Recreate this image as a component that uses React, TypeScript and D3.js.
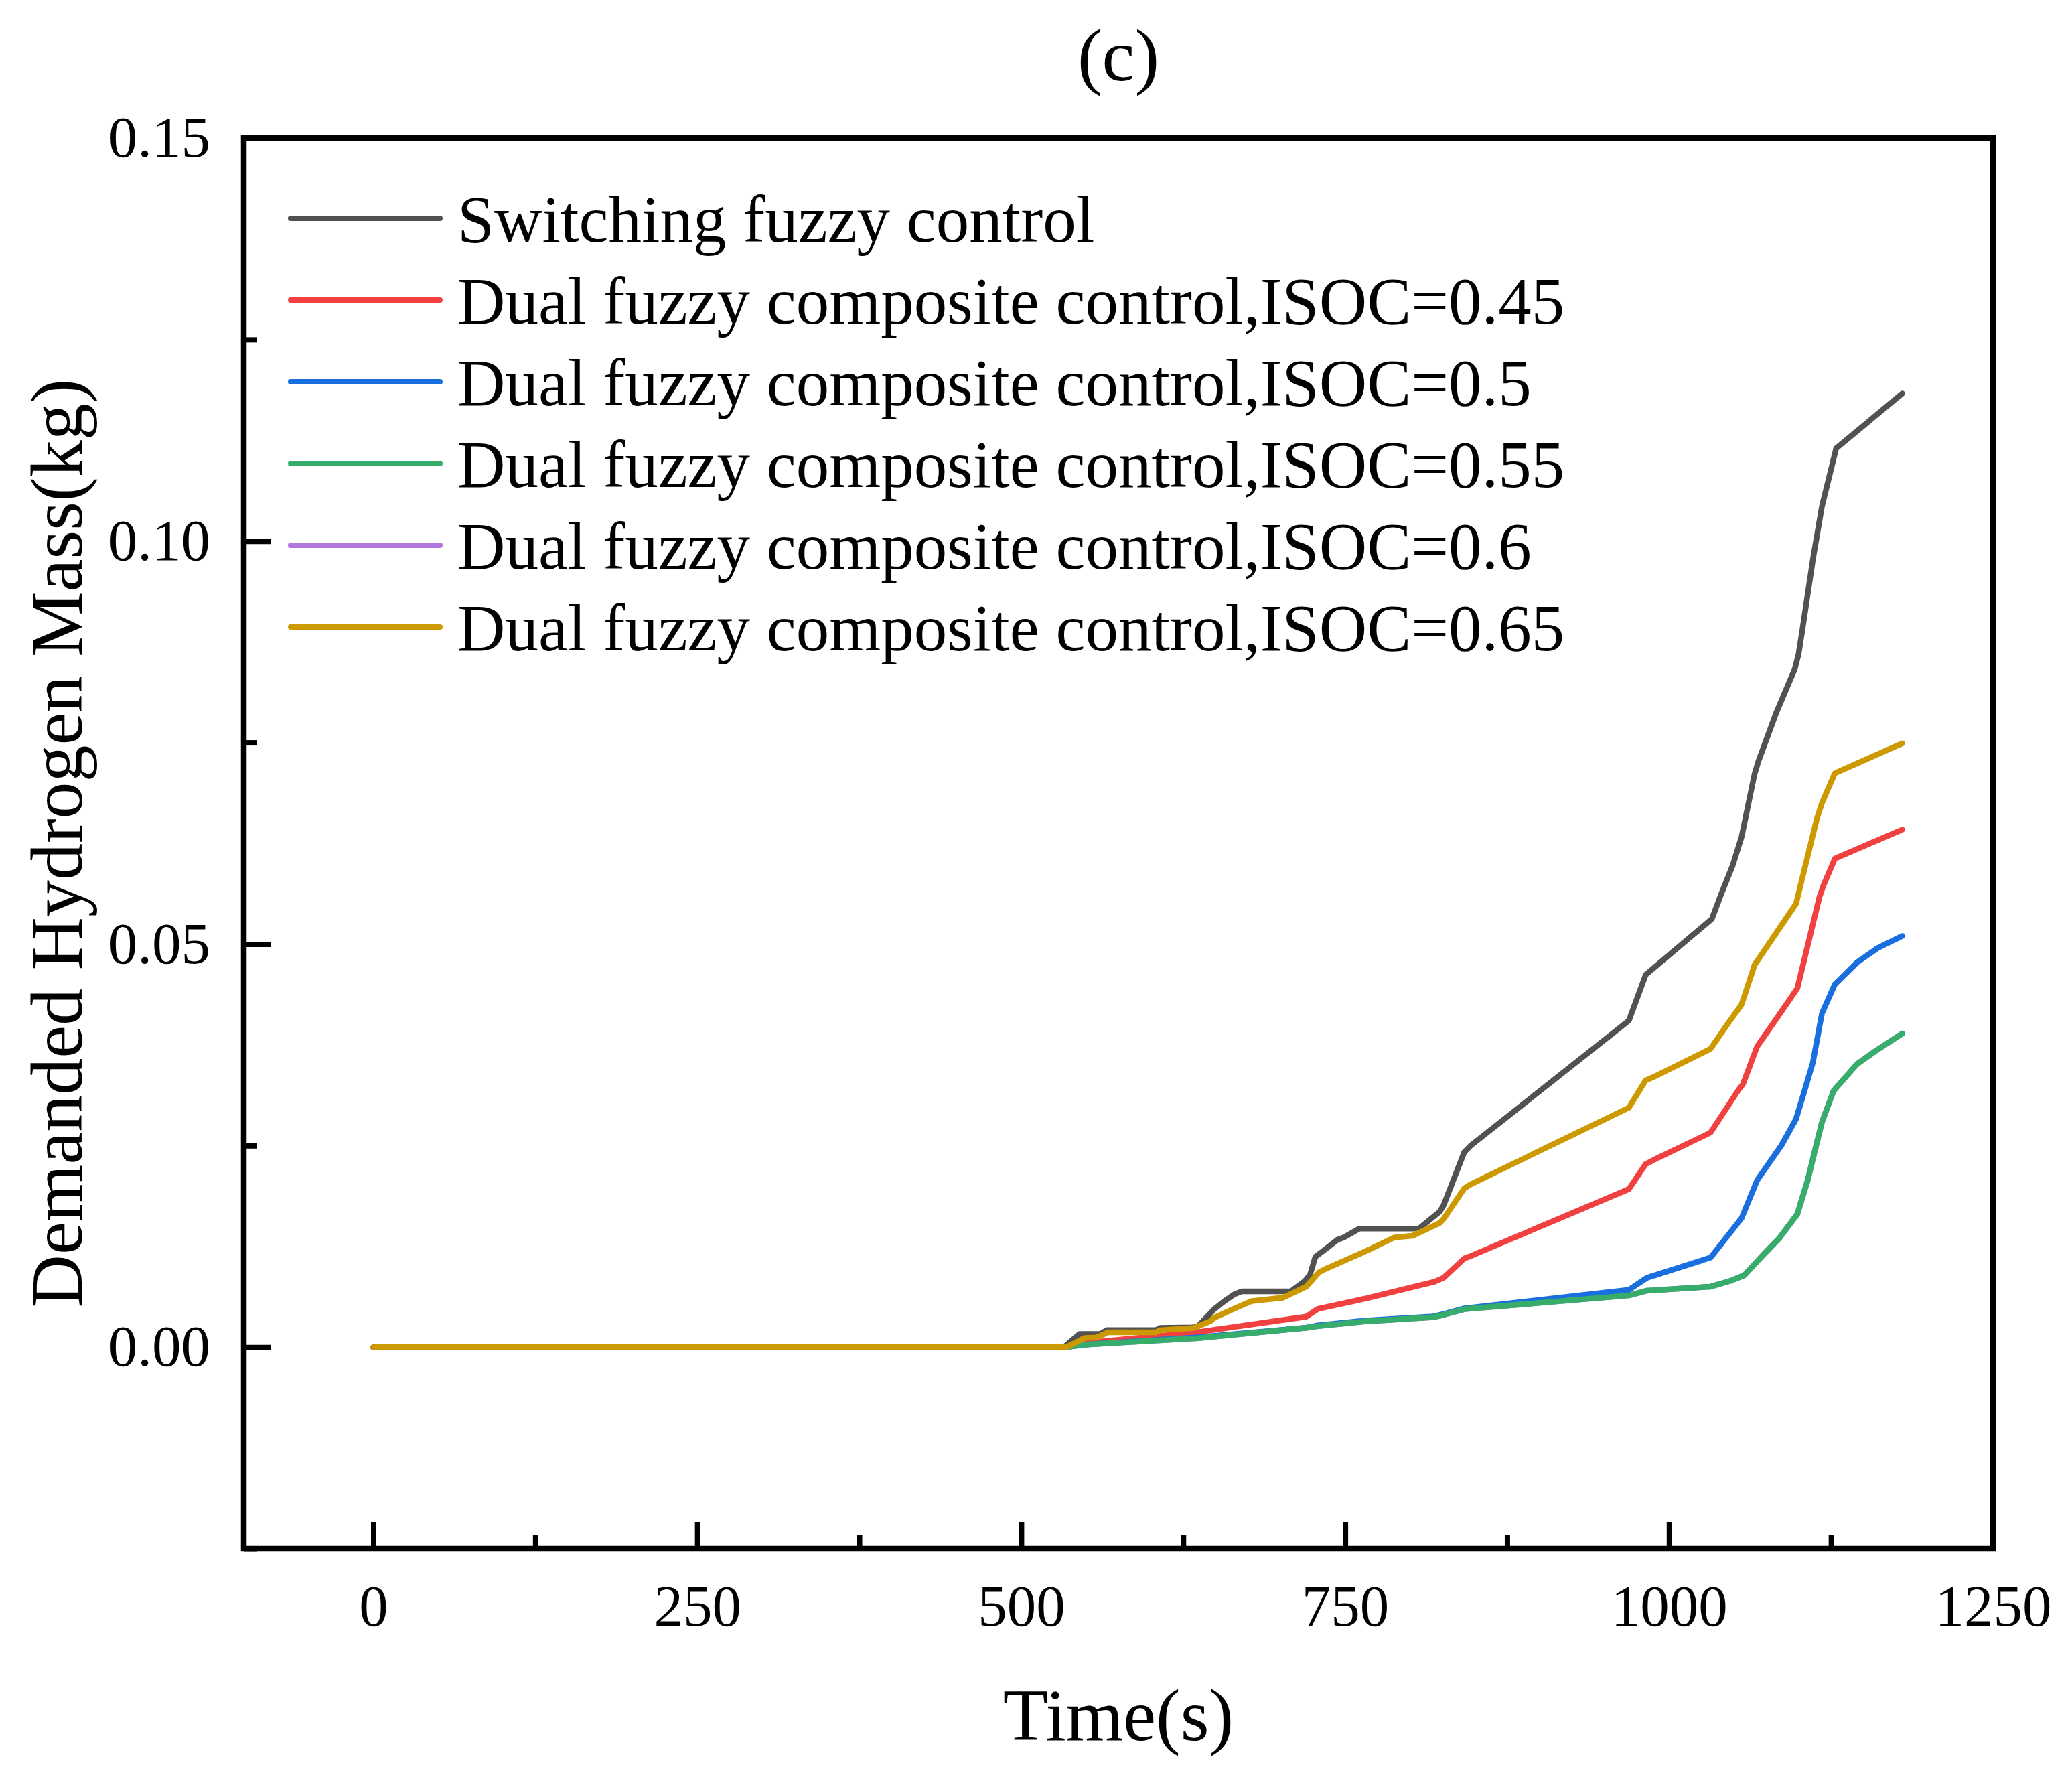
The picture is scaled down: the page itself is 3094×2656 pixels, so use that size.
import { useEffect, useRef } from "react"
import * as d3 from "d3"

// [time (s), demanded hydrogen mass (kg)]
const switchingFuzzy: [number, number][] = [
  [0, 0], [533, 0], [545, 0.00164], [561, 0.00164], [566, 0.0021], [604, 0.0021],
  [607, 0.00238], [632, 0.00245], [636, 0.00252], [642, 0.0035], [649, 0.0047],
  [656, 0.0056], [664, 0.0065], [670, 0.0069], [708, 0.0069], [719, 0.0082],
  [723, 0.009], [727, 0.0112], [732, 0.0118], [744, 0.0133], [749, 0.0136],
  [761, 0.0147], [807, 0.0147], [823, 0.0168], [826, 0.0176], [842, 0.0242],
  [847, 0.025], [969, 0.0405], [982, 0.0462], [1033, 0.0531], [1040, 0.0561],
  [1049, 0.0597], [1056, 0.0633], [1061, 0.0672], [1066, 0.0711], [1069, 0.0727],
  [1083, 0.0788], [1097, 0.0841], [1100, 0.086], [1103, 0.0891], [1111, 0.0977],
  [1118, 0.1043], [1129, 0.1115], [1180, 0.1183],
]

const isoc045: [number, number][] = [
  [0, 0], [535, 0], [548, 0.0005], [635, 0.00183], [720, 0.00377], [729, 0.00474],
  [766, 0.00603], [819, 0.0081], [826, 0.0086], [842, 0.011], [847, 0.0113],
  [969, 0.0196], [982, 0.0227], [988, 0.0232], [1032, 0.0266], [1054, 0.032],
  [1057, 0.0326], [1068, 0.0373], [1081, 0.0403], [1099, 0.0445], [1116, 0.0558],
  [1119, 0.0572], [1128, 0.0606], [1180, 0.0642],
]

const isoc050: [number, number][] = [
  [0, 0], [535, 0], [548, 0.0003], [635, 0.0012], [720, 0.0024], [729, 0.0027],
  [766, 0.0033], [818, 0.0038], [826, 0.0041], [842, 0.0048], [969, 0.0071],
  [983, 0.0086], [1032, 0.0111], [1056, 0.016], [1068, 0.0207], [1087, 0.0251],
  [1098, 0.0283], [1104, 0.0315], [1111, 0.0353], [1118, 0.0414], [1128, 0.045],
  [1145, 0.0477], [1161, 0.0495], [1180, 0.051],
]

const isoc055: [number, number][] = [
  [0, 0], [535, 0], [548, 0.0003], [635, 0.0011], [720, 0.0024], [729, 0.0026],
  [766, 0.0032], [818, 0.0037], [826, 0.004], [842, 0.0047], [969, 0.0064],
  [983, 0.007], [1032, 0.0075], [1047, 0.0082], [1058, 0.0089], [1073, 0.0115],
  [1085, 0.0135], [1099, 0.0165], [1107, 0.0207], [1112, 0.024], [1118, 0.0279],
  [1127, 0.0318], [1145, 0.0351], [1159, 0.0367], [1180, 0.0389],
]

// ISOC=0.6 is hidden under the other curves in the figure
const isoc060: [number, number][] = [
  [0, 0], [535, 0], [548, 0.0003], [635, 0.0011], [720, 0.0024], [729, 0.0026],
  [766, 0.0032], [818, 0.0037], [826, 0.004], [842, 0.0047], [969, 0.0064],
  [983, 0.007], [1032, 0.0075], [1047, 0.0082], [1058, 0.0089], [1073, 0.0115],
  [1085, 0.0135], [1099, 0.0165], [1107, 0.0207], [1112, 0.024], [1118, 0.0279],
  [1127, 0.0318], [1145, 0.0351], [1159, 0.0367], [1180, 0.0389],
]

const isoc065: [number, number][] = [
  [0, 0], [535, 0], [549, 0.00114], [558, 0.00119], [567, 0.00183], [604, 0.00183],
  [607, 0.0021], [633, 0.00238], [646, 0.0032], [649, 0.00363], [664, 0.00474],
  [678, 0.00571], [702, 0.00612], [720, 0.0075], [730, 0.0093], [735, 0.0097],
  [766, 0.0119], [788, 0.0136], [802, 0.0138], [823, 0.0154], [826, 0.0159],
  [842, 0.0197], [847, 0.0202], [969, 0.0297], [982, 0.0331], [988, 0.0335],
  [1032, 0.037], [1044, 0.0398], [1056, 0.0425], [1066, 0.0474], [1098, 0.055],
  [1114, 0.0655], [1118, 0.0675], [1128, 0.0712], [1180, 0.0749],
]

const seriesNames = [
  "Switching fuzzy control",
  "Dual fuzzy composite control,ISOC=0.45",
  "Dual fuzzy composite control,ISOC=0.5",
  "Dual fuzzy composite control,ISOC=0.55",
  "Dual fuzzy composite control,ISOC=0.6",
  "Dual fuzzy composite control,ISOC=0.65",
]
const seriesData = [switchingFuzzy, isoc045, isoc050, isoc055, isoc060, isoc065]
const seriesColors = ["#515151", "#F14040", "#1A6FDF", "#37AD6B", "#B177DE", "#CC9900"]
// drawing order (purple first so it sits underneath, as in the figure)
const drawOrder = [4, 0, 1, 2, 3, 5]

const xMajorTicks = [0, 250, 500, 750, 1000, 1250]
const xMinorTicks = [125, 375, 625, 875, 1125]
const yMajorTicks = [0, 0.05, 0.1, 0.15]
const yMinorTicks = [-0.025, 0.025, 0.075, 0.125]

const FONT = "'Liberation Serif', 'Times New Roman', Times, serif"

export default function App() {
  const svgRef = useRef<SVGSVGElement>(null)

  useEffect(() => {
    if (!svgRef.current) return
    document.body.style.margin = "0"

    const W = 3094
    const H = 2656
    const left = 364
    const right = 2976
    const top = 206
    const bottom = 2312

    const svg = d3.select(svgRef.current)
    svg.selectAll("*").remove()
    svg.attr("width", W).attr("height", H).style("background", "#fff")

    const x = d3.scaleLinear().domain([-100, 1250]).range([left, right])
    const y = d3.scaleLinear().domain([-0.025, 0.15]).range([bottom, top])

    // Clip lines to the plot frame
    svg
      .append("defs")
      .append("clipPath")
      .attr("id", "plot-clip")
      .append("rect")
      .attr("x", left)
      .attr("y", top)
      .attr("width", right - left)
      .attr("height", bottom - top)

    const line = d3
      .line<[number, number]>()
      .x((d) => x(d[0]))
      .y((d) => y(d[1]))

    // Data lines
    const lines = svg.append("g").attr("clip-path", "url(#plot-clip)")
    drawOrder.forEach((i) => {
      lines
        .append("path")
        .attr("d", line(seriesData[i]))
        .attr("fill", "none")
        .attr("stroke", seriesColors[i])
        .attr("stroke-width", 8.5)
        .attr("stroke-linejoin", "round")
        .attr("stroke-linecap", "round")
    })

    // Axes (ticks inward)
    const styleAxis = (g: d3.Selection<SVGGElement, unknown, null, undefined>) => {
      g.select(".domain").remove()
      g.selectAll(".tick line").attr("stroke", "#000").attr("stroke-width", 8)
      g.selectAll(".tick text")
        .attr("fill", "#000")
        .attr("font-family", FONT)
        .attr("font-size", 87)
    }

    svg
      .append("g")
      .attr("transform", `translate(0,${bottom})`)
      .call(d3.axisBottom(x).tickValues(xMajorTicks).tickSize(-40).tickSizeOuter(0).tickPadding(53).tickFormat(d3.format("d")))
      .call(styleAxis)

    svg
      .append("g")
      .attr("transform", `translate(0,${bottom})`)
      .call(d3.axisBottom(x).tickValues(xMinorTicks).tickSize(-20).tickSizeOuter(0).tickFormat(() => ""))
      .call(styleAxis)

    svg
      .append("g")
      .attr("transform", `translate(${left},0)`)
      .call(d3.axisLeft(y).tickValues(yMajorTicks).tickSize(-40).tickSizeOuter(0).tickPadding(50).tickFormat(d3.format(".2f")))
      .call(styleAxis)

    svg
      .append("g")
      .attr("transform", `translate(${left},0)`)
      .call(d3.axisLeft(y).tickValues(yMinorTicks).tickSize(-20).tickSizeOuter(0).tickFormat(() => ""))
      .call(styleAxis)

    // Frame
    svg
      .append("rect")
      .attr("x", left)
      .attr("y", top)
      .attr("width", right - left)
      .attr("height", bottom - top)
      .attr("fill", "none")
      .attr("stroke", "#000")
      .attr("stroke-width", 8.5)

    // Legend
    const legend = svg
      .append("g")
      .selectAll("g")
      .data(seriesNames)
      .enter()
      .append("g")
      .attr("transform", (d, i) => `translate(434,${326 + i * 122})`)

    legend
      .append("line")
      .attr("x1", 0)
      .attr("x2", 223)
      .attr("stroke", (d, i) => seriesColors[i])
      .attr("stroke-width", 8)
      .attr("stroke-linecap", "round")

    legend
      .append("text")
      .attr("x", 249)
      .attr("y", 35)
      .attr("font-family", FONT)
      .attr("font-size", 99)
      .attr("fill", "#000")
      .text((d) => d)

    // Titles
    svg
      .append("text")
      .attr("x", (left + right) / 2)
      .attr("y", 120)
      .attr("text-anchor", "middle")
      .attr("font-family", FONT)
      .attr("font-size", 110)
      .text("(c)")

    svg
      .append("text")
      .attr("x", (left + right) / 2)
      .attr("y", 2598)
      .attr("text-anchor", "middle")
      .attr("font-family", FONT)
      .attr("font-size", 110)
      .text("Time(s)")

    svg
      .append("text")
      .attr("transform", `translate(122,${(top + bottom) / 2}) rotate(-90)`)
      .attr("text-anchor", "middle")
      .attr("font-family", FONT)
      .attr("font-size", 110)
      .text("Demanded Hydrogen Mass(kg)")
  }, [])

  return <svg ref={svgRef}></svg>
}
